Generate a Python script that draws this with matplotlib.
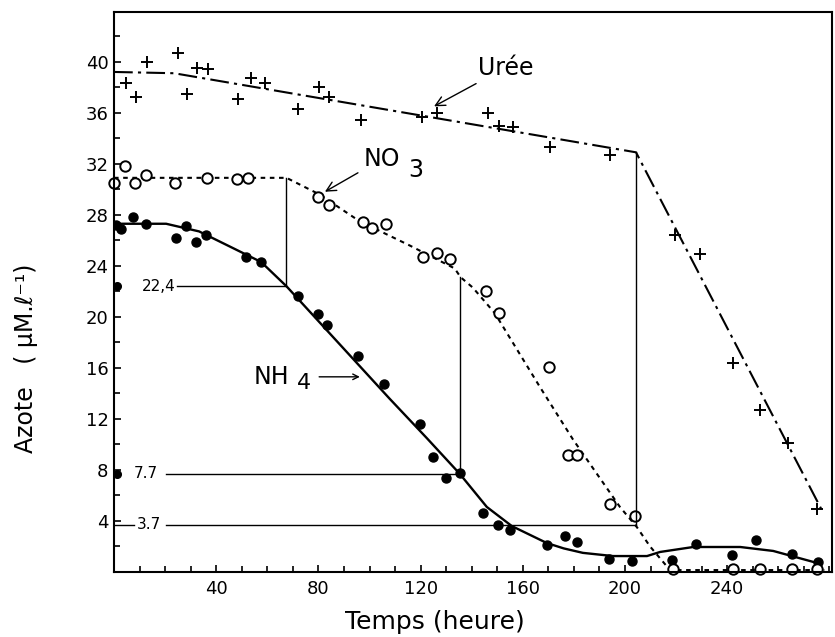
import matplotlib.pyplot as plt
from matplotlib.ticker import MultipleLocator

# NH4 (points mesurés, ronds pleins)
nh4_t = [0.8, 2.7, 7.5, 12.5, 24.3, 28.2, 32.0, 36.0, 51.8, 57.6, 72.0, 80.0,
         83.5, 95.3, 105.5, 119.6, 125.0, 130.0, 135.3, 144.3, 150.2, 155.0,
         169.4, 176.5, 181.2, 193.7, 202.7, 218.4, 227.8, 242.0, 251.4, 265.5, 275.7]
nh4_c = [27.2, 26.9, 27.8, 27.3, 26.2, 27.1, 25.9, 26.4, 24.7, 24.3, 21.6, 20.2,
         19.4, 16.9, 14.7, 11.6, 9.0, 7.4, 7.8, 4.6, 3.7, 3.3,
         2.1, 2.8, 2.35, 1.0, 0.86, 0.94, 2.2, 1.3, 2.5, 1.4, 0.8]

# NO3 (ronds vides)
no3_t = [0.0, 4.3, 8.2, 12.5, 23.9, 36.5, 48.2, 52.5, 80.0, 84.0, 97.3, 100.8,
         106.3, 120.8, 126.3, 131.4, 145.5, 150.6, 170.2, 177.6, 181.2, 194.0,
         204.0, 218.8, 242.4, 253.0, 265.5, 275.3]
no3_c = [30.5, 31.8, 30.5, 31.1, 30.5, 30.9, 30.8, 30.9, 29.4, 28.8, 27.4, 27.0,
         27.3, 24.7, 25.0, 24.5, 22.0, 20.3, 16.1, 9.2, 9.2, 5.3,
         4.4, 0.2, 0.2, 0.2, 0.25, 0.2]

# Urée (croix)
uree_t = [4.7, 8.6, 12.9, 25.1, 28.6, 32.5, 36.9, 48.6, 53.7, 59.2, 72.2, 80.4,
          84.3, 96.5, 120.4, 126.3, 146.3, 150.6, 156.1, 170.6, 194.1, 219.6,
          229.4, 242.4, 252.9, 263.9, 275.3]
uree_c = [38.35, 37.25, 40.0, 40.7, 37.5, 39.5, 39.4, 37.1, 38.7, 38.35, 36.3, 38.0,
          37.25, 35.45, 35.7, 36.0, 36.0, 35.0, 34.9, 33.3, 32.7, 26.4,
          24.9, 16.4, 12.7, 10.1, 4.9]

# courbes tracées à la main
nh4_fit_t = [0, 20.4, 33.3, 47.5, 57.6, 67.5, 107.8, 122.4, 135.3, 145.9, 155.7,
             169.4, 176.0, 183.5, 195.3, 208.6, 213.7, 226.7, 245.1, 258.0, 275.3]
nh4_fit_c = [27.3, 27.3, 26.7, 25.3, 24.3, 22.4, 13.6, 10.5, 7.7, 5.1, 3.6,
             2.27, 1.85, 1.5, 1.25, 1.25, 1.57, 1.96, 1.96, 1.65, 0.7]
no3_fit_t = [0, 67.5, 80.4, 96.1, 115.7, 133.3, 135.7, 140.4, 149.0, 166.7,
             179.6, 198.0, 204.7, 209.8, 217.6, 278.0]
no3_fit_c = [30.9, 30.9, 29.6, 27.5, 25.6, 23.8, 23.1, 22.3, 20.3, 14.5,
             10.4, 5.1, 3.5, 2.0, 0.15, 0.15]
uree_fit_t = [0, 23.5, 204.3, 276.9]
uree_fit_c = [39.2, 39.1, 32.9, 4.9]

# niveaux de référence
ref_level = [22.4, 7.7, 3.7]
ref_label = ['22,4', '7.7', '3.7']
ref_label_t = [11.0, 7.8, 9.0]
ref_start = [24.7, 20.4, 20.4]
ref_time = [67.5, 135.3, 204.3]
ref_top = [30.9, 23.1, 32.9]

fig = plt.figure(figsize=(8.35, 6.37), dpi=100)
ax = fig.add_axes([114/835, 65/637, 718/835, 560/637])

ax.plot(nh4_fit_t, nh4_fit_c, '-', color='black', lw=1.7)
ax.plot(no3_fit_t, no3_fit_c, color='black', lw=1.5, dashes=(2.2, 2.2))
ax.plot(uree_fit_t, uree_fit_c, color='black', lw=1.5, dashes=(9, 2.5, 1.5, 2.5))

ax.plot(nh4_t, nh4_c, 'o', color='black', ms=6.5)
ax.plot(no3_t, no3_c, 'o', mfc='white', mec='black', mew=1.4, ms=7.5, clip_on=False)
ax.plot(uree_t, uree_c, '+', color='black', ms=8, mew=1.4)

for lev, lab, lt, t0, t1, top in zip(ref_level, ref_label, ref_label_t,
                                     ref_start, ref_time, ref_top):
    ax.plot([t0, t1], [lev, lev], '-', color='black', lw=1.0)
    ax.plot([t1, t1], [lev, top], '-', color='black', lw=1.0)
    ax.text(lt, lev, lab, fontsize=11, ha='left', va='center')
ax.plot([1.2, 1.2], ref_level[:2], 'o', color='black', ms=5.5, clip_on=False)
ax.plot([0, 8], [ref_level[2], ref_level[2]], '-', color='black', lw=1.0)

arrow = dict(arrowstyle='->', color='black', lw=1.0)
ax.annotate('Urée', xy=(124.3, 36.4), xytext=(142.5, 39.0), fontsize=17,
            ha='left', va='baseline', arrowprops=arrow)
ax.annotate('NO', xy=(81.6, 29.7), xytext=(97.5, 31.8), fontsize=17,
            ha='left', va='baseline', arrowprops=arrow)
ax.text(115.0, 31.0, '3', fontsize=17, ha='left', va='baseline')
ax.annotate('', xy=(97.3, 15.3), xytext=(79.2, 15.3), arrowprops=arrow)
ax.text(54.5, 15.3, 'NH', fontsize=17, ha='left', va='center')
ax.text(71.5, 14.8, '4', fontsize=16, ha='left', va='center')

ax.set_xlim(0, 281)
ax.set_ylim(0, 43.9)
ax.xaxis.set_minor_locator(MultipleLocator(10))
ax.yaxis.set_minor_locator(MultipleLocator(2))
ax.set_xticks([40, 80, 120, 160, 200, 240])
ax.set_yticks(range(4, 41, 4))
ax.tick_params(which='both', direction='in', width=1.2, labelsize=13)
ax.tick_params(which='major', length=5)
ax.tick_params(which='minor', length=4)
ax.tick_params(axis='y', pad=4)
ax.tick_params(axis='x', pad=6)
for s in ax.spines.values():
    s.set_linewidth(1.5)

fig.text(435/835, 1 - 622/637, 'Temps (heure)', fontsize=18, ha='center', va='center')
fig.text(26/835, 1 - 358/637, 'Azote   ( μM.ℓ⁻¹)', fontsize=17, rotation=90,
         ha='center', va='center')

plt.savefig('out.png', dpi=100)
